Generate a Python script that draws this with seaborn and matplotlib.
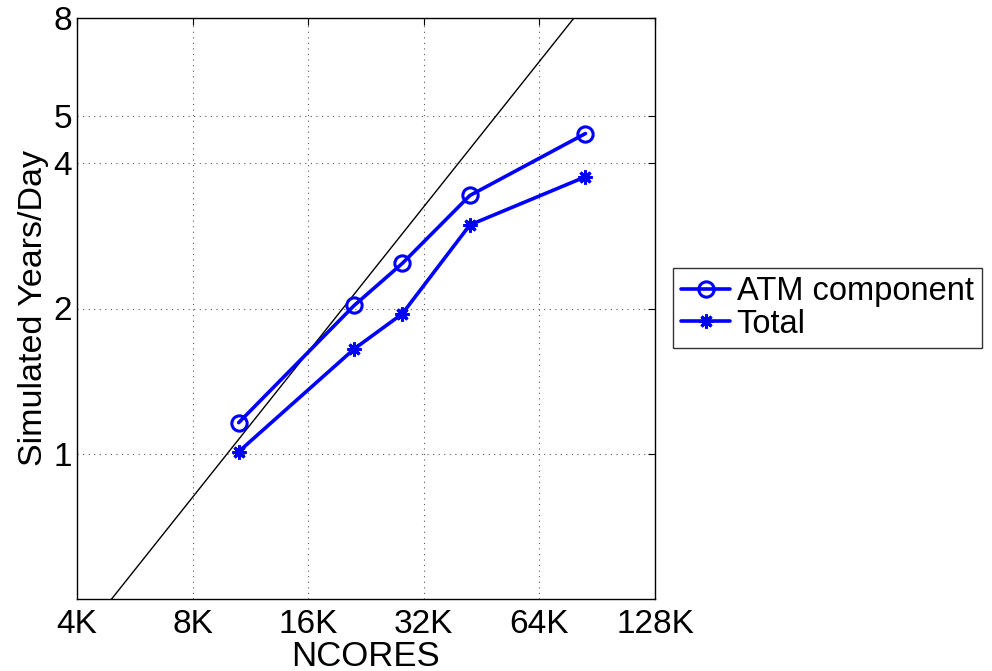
import matplotlib
matplotlib.use("Agg")
import matplotlib.pyplot as plt
import seaborn as sns
import pandas as pd
import numpy as np

# Data
ncores = [10800, 21600, 28800, 43200, 86400]
atm = [1.16, 2.03, 2.48, 3.43, 4.61]
total = [1.01, 1.65, 1.95, 2.98, 3.75]
ideal_ref = 10080         # ideal scaling: 1 SYPD at this core count
ideal_x = [4096, 131072]
xticks = [4096, 8192, 16384, 32768, 65536, 131072]
xticklabels = ["4K", "8K", "16K", "32K", "64K", "128K"]
yticks = [1, 2, 4, 5, 8]
yticklabels = ["1", "2", "4", "5", "8"]

sns.set_style("white")
plt.rcParams['font.family'] = ['Liberation Sans', 'DejaVu Sans']
plt.rcParams['text.color'] = 'black'
plt.rcParams['axes.labelcolor'] = 'black'
plt.rcParams['xtick.color'] = 'black'
plt.rcParams['ytick.color'] = 'black'

fig = plt.figure(figsize=(9.92, 6.71), dpi=100)
ax = fig.add_axes([77/992, 72/671, (655-77)/992, (599-18)/671])

df = pd.DataFrame({"NCORES": ncores * 2,
                   "SYPD": atm + total,
                   "series": ["ATM component"] * len(ncores) + ["Total"] * len(ncores)})

ideal_df = pd.DataFrame({"x": ideal_x, "y": [v / ideal_ref for v in ideal_x]})
sns.lineplot(data=ideal_df, x="x", y="y", ax=ax, color="black", linewidth=1.0, legend=False)

sns.lineplot(data=df[df.series == "ATM component"], x="NCORES", y="SYPD", ax=ax,
             color=(0, 0, 1), linewidth=2.6, marker="o", markersize=11,
             markerfacecolor="none", markeredgecolor=(0, 0, 1), markeredgewidth=2.2,
             label="ATM component", sort=False)
sns.lineplot(data=df[df.series == "Total"], x="NCORES", y="SYPD", ax=ax,
             color=(0, 0, 1), linewidth=2.6, marker=(8, 2, 0), markersize=10,
             markeredgecolor=(0, 0, 1), markeredgewidth=2.2,
             label="Total", sort=False)

ax.set_xscale("log", base=2)
ax.set_yscale("log", base=2)
ax.set_xlim(4096, 131072)
ax.set_ylim(0.5, 8)
ax.set_xticks(xticks)
ax.set_xticklabels(xticklabels)
ax.set_yticks(yticks)
ax.set_yticklabels(yticklabels)
ax.minorticks_off()
ax.tick_params(axis="both", which="major", direction="in", length=5, width=0.8,
               labelsize=24, top=True, right=True, pad=8, colors="black")
ax.tick_params(axis="x", pad=7)
ax.tick_params(axis="y", pad=3.5)
ax.grid(True, which="major", linestyle=(0, (1, 4)), color="0.35", linewidth=0.8)

for s in ax.spines.values():
    s.set_color("black")
    s.set_linewidth(1.0)

ax.set_xlabel("NCORES", fontsize=25, labelpad=0)
ax.set_ylabel("Simulated Years/Day", fontsize=24.5, labelpad=3)

leg = ax.legend(loc="center left", bbox_to_anchor=(673/992, (671-308)/671),
                bbox_transform=fig.transFigure, fontsize=23.5, frameon=True,
                fancybox=False, edgecolor="black", handlelength=1.5,
                handletextpad=0.2, borderpad=0.25, labelspacing=0.05, borderaxespad=0)
leg.get_frame().set_linewidth(1.0)

fig.savefig("out.png", dpi=100)
